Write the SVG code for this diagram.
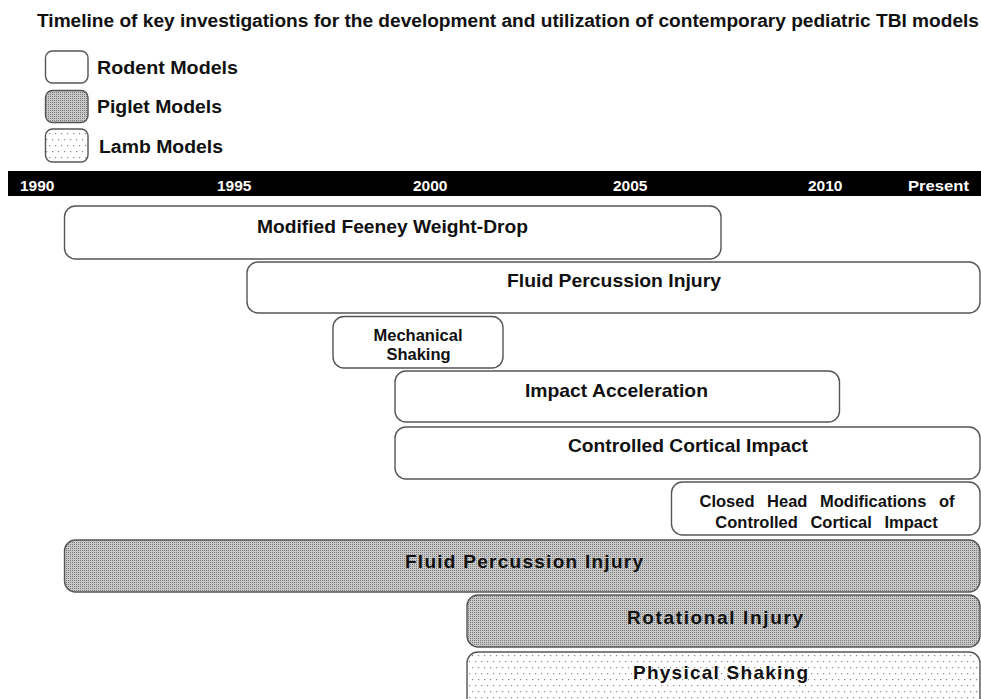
<svg xmlns="http://www.w3.org/2000/svg" width="981" height="699" viewBox="0 0 981 699">
<defs>
<pattern id="piglet" width="2" height="2" patternUnits="userSpaceOnUse">
<rect width="2" height="2" fill="#c8c8c8"/>
<rect width="1" height="1" fill="#7a7a7a"/>
</pattern>
<pattern id="lamb" width="6" height="12" patternUnits="userSpaceOnUse">
<rect width="6" height="12" fill="#ffffff"/>
<rect x="1" y="1" width="1.2" height="1.2" fill="#8a8a8a"/>
<rect x="4" y="7" width="1.2" height="1.2" fill="#8a8a8a"/>
</pattern>
<style>
text{font-family:"Liberation Sans",Arial,sans-serif;font-weight:bold;fill:#111;}
.box{stroke:#555;stroke-width:1.4;}
.rodent{fill:#fff;}
.piglet{fill:url(#piglet);}
.lamb{fill:url(#lamb);}
.lbl{font-size:19px;text-anchor:middle;}
.sm{font-size:16.5px;text-anchor:middle;}
.yr{font-size:15.5px;fill:#fff;}
.leg{font-size:18px;}
</style>
</defs>
<rect width="981" height="699" fill="#fff"/>
<text x="37" y="27" font-size="17.5" textLength="942" lengthAdjust="spacingAndGlyphs">Timeline of key investigations for the development and utilization of contemporary pediatric TBI models</text>

<g id="legend">
<g id="legend-rodent">
<rect class="box rodent" x="45.5" y="51" width="42.5" height="32" rx="7"/>
<text class="leg" x="97" y="74" textLength="141" lengthAdjust="spacingAndGlyphs">Rodent Models</text>
</g>
<g id="legend-piglet">
<rect class="box piglet" x="45.5" y="90.5" width="42.5" height="32" rx="7"/>
<text class="leg" x="97" y="113" textLength="125" lengthAdjust="spacingAndGlyphs">Piglet Models</text>
</g>
<g id="legend-lamb">
<rect class="box lamb" x="45.5" y="129" width="42.5" height="33" rx="7"/>
<text class="leg" x="99" y="153" textLength="124" lengthAdjust="spacingAndGlyphs">Lamb Models</text>
</g>
</g>

<g id="timeline">
<rect x="8" y="171" width="973" height="25" fill="#000"/>
<text class="yr" x="20" y="191">1990</text>
<text class="yr" x="217" y="191">1995</text>
<text class="yr" x="413" y="191">2000</text>
<text class="yr" x="613" y="191">2005</text>
<text class="yr" x="808" y="191">2010</text>
<text class="yr" x="908" y="191" textLength="61" lengthAdjust="spacingAndGlyphs">Present</text>
</g>

<g id="rodent-feeney">
<rect class="box rodent" x="64.5" y="206" width="656.5" height="53" rx="11"/>
<text class="lbl" x="392.5" y="233" textLength="271" lengthAdjust="spacingAndGlyphs">Modified Feeney Weight-Drop</text>
</g>
<g id="rodent-fpi">
<rect class="box rodent" x="247" y="262" width="733" height="51" rx="11"/>
<text class="lbl" x="614" y="287" textLength="214" lengthAdjust="spacingAndGlyphs">Fluid Percussion Injury</text>
</g>
<g id="rodent-mech">
<rect class="box rodent" x="333" y="316.5" width="170" height="51.5" rx="11"/>
<text class="sm" x="418" y="341">Mechanical</text>
<text class="sm" x="418.5" y="360">Shaking</text>
</g>
<g id="rodent-impact">
<rect class="box rodent" x="395" y="371" width="444.5" height="51" rx="11"/>
<text class="lbl" x="616.5" y="397" textLength="183" lengthAdjust="spacingAndGlyphs">Impact Acceleration</text>
</g>
<g id="rodent-cci">
<rect class="box rodent" x="395" y="427" width="585" height="52" rx="11"/>
<text class="lbl" x="688" y="452" textLength="240" lengthAdjust="spacingAndGlyphs">Controlled Cortical Impact</text>
</g>
<g id="rodent-closed">
<rect class="box rodent" x="671.5" y="482" width="308.5" height="53" rx="11"/>
<text class="sm" x="827" y="507" word-spacing="8" font-size="16">Closed Head Modifications of</text>
<text class="sm" x="826.5" y="528" word-spacing="8" font-size="16">Controlled Cortical Impact</text>
</g>
<g id="piglet-fpi">
<rect class="box piglet" x="64.5" y="540" width="915.5" height="52" rx="11"/>
<text class="lbl" x="524" y="568" textLength="238" lengthAdjust="spacing">Fluid Percussion Injury</text>
</g>
<g id="piglet-rot">
<rect class="box piglet" x="467" y="595" width="513" height="52" rx="11"/>
<text class="lbl" x="715" y="624" textLength="176" lengthAdjust="spacing">Rotational Injury</text>
</g>
<g id="lamb-shaking">
<rect class="box lamb" x="467" y="652" width="513" height="60" rx="11"/>
<text class="lbl" x="720.5" y="679" textLength="175" lengthAdjust="spacing">Physical Shaking</text>
</g>
</svg>
